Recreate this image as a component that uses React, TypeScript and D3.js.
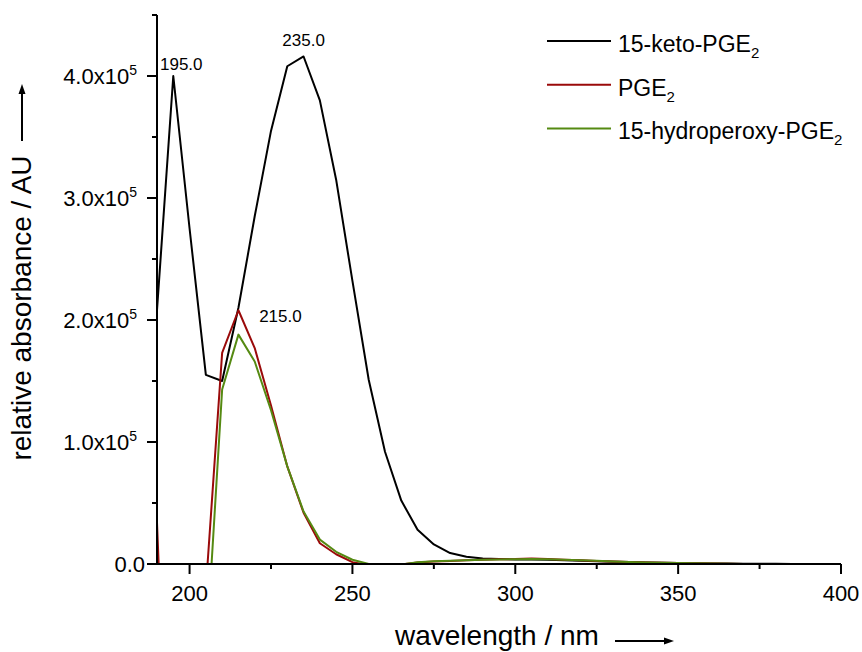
import React from "react";
import * as d3 from "d3";

const wavelengths = [190, 195, 200, 205, 210, 215, 220, 225, 230, 235, 240, 245, 250, 255, 260, 265, 270, 275, 280, 285, 290, 295, 300, 305, 310, 315, 320, 325, 330, 335, 340, 345, 350, 355, 360, 365, 370, 375, 380, 385, 390, 395, 400];

// values in units of 1e5
const ketoPGE2 = [2.08, 4.0, 2.75, 1.55, 1.5, 2.1, 2.85, 3.55, 4.08, 4.16, 3.8, 3.15, 2.32, 1.51, 0.92, 0.52, 0.28, 0.16, 0.09, 0.06, 0.045, 0.04, 0.037, 0.036, 0.034, 0.031, 0.027, 0.023, 0.019, 0.016, 0.013, 0.01, 0.008, 0.006, 0.005, 0.004, 0.003, 0.002, 0.002, 0.001, 0.001, 0.001, 0.0];
const PGE2 = [0.34, -3.0, -2.5, -0.2, 1.73, 2.08, 1.77, 1.3, 0.8, 0.42, 0.17, 0.08, 0.015, -0.01, -0.015, -0.005, 0.012, 0.02, 0.025, 0.03, 0.034, 0.038, 0.04, 0.045, 0.04, 0.035, 0.03, 0.025, 0.02, 0.016, 0.012, 0.01, 0.008, 0.006, 0.004, 0.002, 0.0, -0.005, -0.005, -0.008, -0.008, -0.01, -0.01];
const hydroperoxyPGE2 = [-0.5, -3.0, -2.2, -0.77, 1.43, 1.88, 1.66, 1.26, 0.8, 0.43, 0.2, 0.1, 0.035, 0.0, -0.01, -0.004, 0.014, 0.022, 0.027, 0.031, 0.034, 0.037, 0.039, 0.041, 0.039, 0.035, 0.03, 0.026, 0.021, 0.017, 0.013, 0.01, 0.008, 0.006, 0.004, 0.002, 0.0, -0.004, -0.005, -0.007, -0.008, -0.009, -0.01];

const seriesNames = ["15-keto-PGE", "PGE", "15-hydroperoxy-PGE"];
const seriesColors = ["#000000", "#9a0a0a", "#558a12"];
const seriesData = [ketoPGE2, PGE2, hydroperoxyPGE2];

const xMajorTicks = [200, 250, 300, 350, 400];
const xMinorTicks = [225, 275, 325, 375];
const yMajorTicks = [0, 1, 2, 3, 4];
const yMinorTicks = [0.5, 1.5, 2.5, 3.5, 4.5];

// peak labels: [series index, wavelength]
const peakLabels: [number, number][] = [
  [0, 195],
  [0, 235],
  [1, 215],
];

const FONT = "'Liberation Sans', Arial, Helvetica, sans-serif";

export default function App() {
  const W = 862;
  const H = 652;
  const x = d3.scaleLinear().domain([190, 400]).range([157, 841]);
  const y = d3.scaleLinear().domain([0, 4.5]).range([564, 15]);
  const line = d3
    .line<number>()
    .x((_, i) => x(wavelengths[i]))
    .y((d) => y(d));

  const labelOffsets: Record<string, [number, number, string]> = {
    "0-195": [8, -6, "middle"],
    "0-235": [0, -10, "middle"],
    "1-215": [42, 12, "middle"],
  };

  return (
    <svg
      width={W}
      height={H}
      style={{ position: "absolute", left: 0, top: 0, background: "#fff" }}
      fontFamily={FONT}
    >
      <defs>
        <clipPath id="plotclip">
          <rect x={x(190)} y={y(4.5)} width={x(400) - x(190)} height={y(0) - y(4.5)} />
        </clipPath>
      </defs>
      <rect x={0} y={0} width={W} height={H} fill="#fff" />

      {/* series */}
      <g clipPath="url(#plotclip)">
        {seriesData.map((s, k) => (
          <path key={k} d={line(s) || ""} fill="none" stroke={seriesColors[k]} strokeWidth={2} strokeLinejoin="round" />
        ))}
      </g>

      {/* peak labels */}
      {peakLabels.map(([k, wl]) => {
        const i = wavelengths.indexOf(wl);
        const off = labelOffsets[`${k}-${wl}`];
        return (
          <text key={`${k}-${wl}`} x={x(wl) + off[0]} y={y(seriesData[k][i]) + off[1]} fontSize={17} textAnchor={off[2]} fill="#000">
            {wl.toFixed(1)}
          </text>
        );
      })}

      {/* x axis */}
      <line x1={x(190)} x2={x(400)} y1={y(0)} y2={y(0)} stroke="#000" strokeWidth={2} />
      {xMajorTicks.map((t) => (
        <g key={t}>
          <line x1={x(t)} x2={x(t)} y1={y(0)} y2={y(0) + 10} stroke="#000" strokeWidth={2} />
          <text x={x(t)} y={y(0) + 37} fontSize={22} textAnchor="middle">
            {t}
          </text>
        </g>
      ))}
      {xMinorTicks.map((t) => (
        <line key={t} x1={x(t)} x2={x(t)} y1={y(0)} y2={y(0) + 5} stroke="#000" strokeWidth={2} />
      ))}

      {/* y axis */}
      <line x1={x(190)} x2={x(190)} y1={y(0) + 1} y2={y(4.5)} stroke="#000" strokeWidth={2} />
      {yMajorTicks.map((t) => (
        <g key={t}>
          <line x1={x(190) - 10} x2={x(190)} y1={y(t)} y2={y(t)} stroke="#000" strokeWidth={2} />
          {t === 0 ? (
            <text x={x(190) - 12} y={y(t) + 8} fontSize={22} textAnchor="end">
              0.0
            </text>
          ) : (
            <text x={x(190) - 20} y={y(t) + 8} fontSize={22} textAnchor="end">
              {t.toFixed(1)}x10
              <tspan fontSize={14} dy={-9}>5</tspan>
            </text>
          )}
        </g>
      ))}
      {yMinorTicks.map((t) => (
        <line key={t} x1={x(190) - 5} x2={x(190)} y1={y(t)} y2={y(t)} stroke="#000" strokeWidth={2} />
      ))}

      {/* axis titles */}
      <text x={395} y={645} fontSize={28}>
        wavelength / nm
      </text>
      <line x1={615} x2={666} y1={641} y2={641} stroke="#000" strokeWidth={2} />
      <path d="M 674 641 L 664 637.5 L 664 644.5 Z" fill="#000" />

      <text transform="translate(31,308) rotate(-90)" fontSize={28} textAnchor="middle">
        relative absorbance / AU
      </text>
      <line x1={22} x2={22} y1={141} y2={92} stroke="#000" strokeWidth={2} />
      <path d="M 22 84 L 18.5 94 L 25.5 94 Z" fill="#000" />

      {/* legend */}
      {seriesNames.map((n, k) => {
        const ly = 41 + k * 43.7;
        return (
          <g key={n}>
            <line x1={547} x2={611} y1={ly} y2={ly} stroke={seriesColors[k]} strokeWidth={2} />
            <text x={618} y={ly + 11} fontSize={23}>
              {n}
              <tspan fontSize={15} dy={6}>2</tspan>
            </text>
          </g>
        );
      })}
    </svg>
  );
}
